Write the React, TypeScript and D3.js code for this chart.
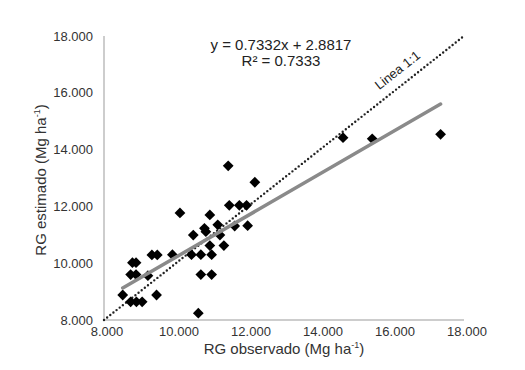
import React from 'react';
import * as d3 from 'd3';

// observed vs estimated grain yield (Mg ha-1)
const observed = [
  11.45, 12.19, 10.11, 10.94, 11.48, 11.76, 11.96, 11.16, 10.79, 11.63,
  11.99, 10.48, 10.83, 11.22, 10.94, 11.33, 10.99, 10.69, 10.43, 9.9,
  9.48, 9.33, 8.79, 8.89, 8.74, 8.89, 9.22, 10.69, 10.99, 8.52,
  9.46, 8.74, 8.9, 9.06, 10.62, 14.64, 15.45, 17.35,
];
const estimated = [
  13.43, 12.85, 11.77, 11.7, 12.04, 12.04, 12.04, 11.35, 11.23, 11.31,
  11.32, 10.99, 11.11, 10.99, 10.62, 10.62, 10.3, 10.3, 10.3, 10.3,
  10.29, 10.29, 10.02, 10.02, 9.6, 9.6, 9.56, 9.6, 9.6, 8.88,
  8.88, 8.64, 8.64, 8.64, 8.24, 14.42, 14.38, 14.54,
];
const ticks = [8, 10, 12, 14, 16, 18];
const slope = 0.7332;
const intercept = 2.8817;
const equationText = 'y = 0.7332x + 2.8817';
const r2Text = 'R² = 0.7333';

const W = 525;
const H = 370;
const margin = { top: 36, right: 61, bottom: 50, left: 104 };
const fmt = (v: number) => d3.format('.3f')(v);

export default function App() {
  const x = d3.scaleLinear().domain([8, 18]).range([margin.left, W - margin.right]);
  const y = d3.scaleLinear().domain([8, 18]).range([H - margin.bottom, margin.top]);

  const xMin = d3.min(observed) as number;
  const xMax = d3.max(observed) as number;
  const line = d3.line<[number, number]>().x(d => x(d[0])).y(d => y(d[1]));
  const trend = line([[xMin, slope * xMin + intercept], [xMax, slope * xMax + intercept]]) || '';
  const oneToOne = line([[8, 8], [18, 18]]) || '';
  const diamond = d3.symbol().type(d3.symbolSquare).size(58)() || '';

  const angle = (Math.atan2(y(18) - y(8), x(18) - x(8)) * 180) / Math.PI;

  const font = '"Liberation Sans", Arial, sans-serif';
  const textColor = '#333';

  return (
    <svg width={W} height={H} style={{ position: 'absolute', left: 0, top: 0, background: '#fff' }} fontFamily={font}>
      {/* axes */}
      <line x1={x(8)} x2={x(8)} y1={y(8)} y2={y(18)} stroke="#bdbdbd" strokeWidth={1.5} />
      <line x1={x(8)} x2={x(18)} y1={y(8)} y2={y(8)} stroke="#bdbdbd" strokeWidth={1.5} />

      {ticks.map(t => (
        <text key={'y' + t} x={x(8) - 11} y={y(t)} dy="0.35em" textAnchor="end" fontSize={13} fill={textColor}>
          {fmt(t)}
        </text>
      ))}
      {ticks.map(t => (
        <text key={'x' + t} x={x(t) + 3} y={y(8) + 16} textAnchor="middle" fontSize={13} fill={textColor}>
          {fmt(t)}
        </text>
      ))}

      {/* axis titles */}
      <text x={284} y={354} textAnchor="middle" fontSize={15} fill={textColor}>
        RG observado (Mg ha<tspan dy={-6} fontSize={9}>-1</tspan><tspan dy={6}>)</tspan>
      </text>
      <text transform={`translate(46,180) rotate(-90)`} textAnchor="middle" fontSize={15} fill={textColor}>
        RG estimado (Mg ha<tspan dy={-6} fontSize={9}>-1</tspan><tspan dy={6}>)</tspan>
      </text>

      {/* 1:1 line */}
      <path d={oneToOne} fill="none" stroke="#222" strokeWidth={2.4} strokeDasharray="0,4" strokeLinecap="round" />
      <text transform={`translate(${x(16.4)},${y(16.4)}) rotate(${angle})`} y={-10} textAnchor="middle" fontSize={13} fill="#222">
        Linea 1:1
      </text>

      {/* points */}
      {observed.map((o, i) => (
        <path key={i} d={diamond} transform={`translate(${x(o)},${y(estimated[i])}) rotate(45)`} fill="#000" />
      ))}

      {/* trend line */}
      <path d={trend} fill="none" stroke="#8a8a8a" strokeWidth={3.5} strokeLinecap="round" />

      {/* equation */}
      <text x={281} y={50} textAnchor="middle" fontSize={15} fill="#222">{equationText}</text>
      <text x={281} y={66} textAnchor="middle" fontSize={15} fill="#222">{r2Text}</text>
    </svg>
  );
}
